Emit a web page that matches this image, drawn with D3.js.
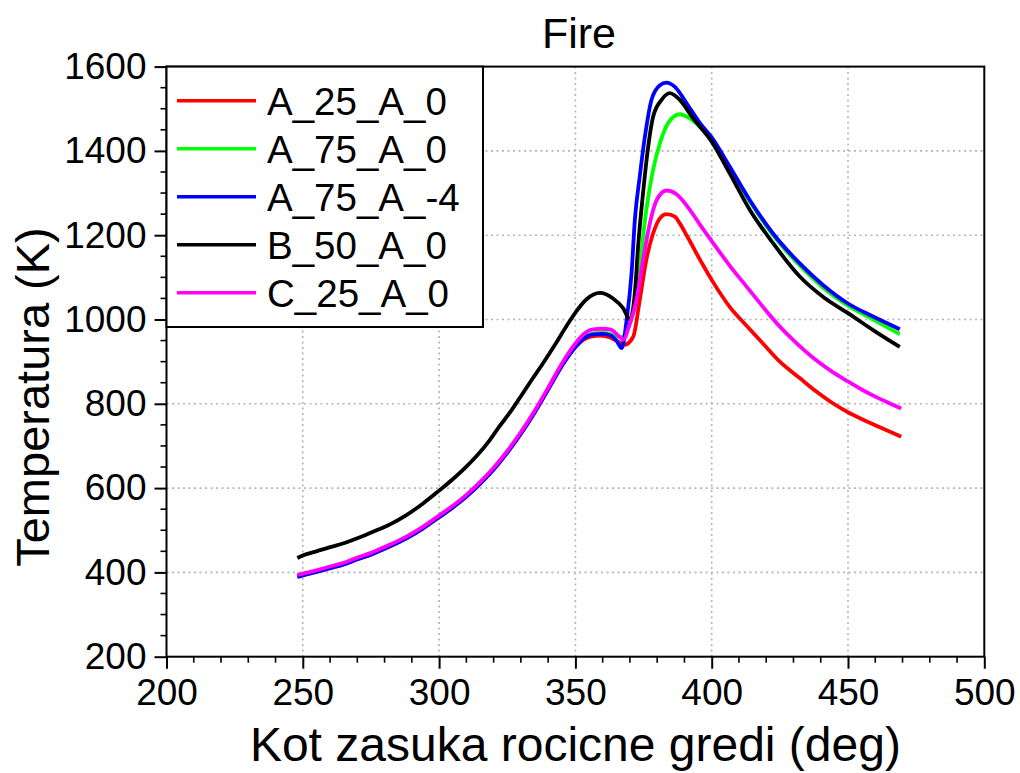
<!DOCTYPE html>
<html>
<head>
<meta charset="utf-8">
<script src="https://cdn.jsdelivr.net/npm/d3@7"></script>
<style>
  html, body { margin: 0; padding: 0; background: #fff; }
  svg { display: block; font-family: "Liberation Sans", Arial, Helvetica, sans-serif; }
</style>
</head>
<body>
<svg id="chart" width="1020" height="773"></svg>
<script>
// ---- data ----
const seriesNames = ["A_25_A_0", "A_75_A_0", "A_75_A_-4", "B_50_A_0", "C_25_A_0"];
const seriesColors = ["#ff0000", "#00ff00", "#0000ff", "#000000", "#ff00ff"];

const xRed = [248,250,255,260,265,270,276,282,288,294,300,305,310,315,320,325,330,335,340,345,350,353,356,359,363,366,368,371.2,373.6,376,378.5,381,383.4,386.5,388.3,390.8,394.4,400,406.6,412.8,418.8,425,432.3,438.4,444,450,455,460.4,465,469.5];
const tRed = [390,393,401,410,419,431,445,462,481,504,531,554,580,610,644,684,729,779,834,890,934,952,960,962,957,946,940,959,1046,1141,1204,1240,1250,1244,1228,1200,1157,1094,1030,985,943,900,861,829,803,780,764,748,735,722];

const xGreen = [248,250,255,260,265,270,276,282,288,294,300,305,310,315,320,325,330,335,340,345,350,353,356,360,363,365,367,369,371.2,373.6,376,378.5,381,384,388.3,392,395.7,400,406.6,414,422.5,432.3,440.8,450,459.2,469];
const tGreen = [391,394,402,411,420,432,446,463,482,505,532,555,581,611,645,685,730,780,835,891,937,957,966,968,965,960,958,975,1015,1125,1260,1355,1418,1466,1487,1477,1457,1426,1360,1280,1200,1128,1076,1033,1000,965];

const xBlue = [248,250,255,260,265,270,276,282,288,294,300,305,310,315,320,325,330,335,340,345,350,353,356,360,363,365,367,368.8,370.6,371.8,373.6,375.5,377.9,381,383.4,386.5,390.8,395.7,400,406.6,414,422.5,432.3,440.8,450,459.2,469];
const tBlue = [389,393,401,410,419,431,445,462,481,504,531,554,580,610,644,684,729,779,834,890,935,955,964,966,962,950,932,999,1110,1236,1339,1434,1521,1556,1562,1552,1513,1466,1432,1363,1283,1204,1133,1082,1038,1007,977];

const xBlack = [248,250,255,260,265,270,276,282,288,294,300,305,310,314,318.6,322,326.6,330,334,338,342.5,346.8,350.4,354.1,359,363.8,367.5,370,371.8,373,374.8,376.7,378.5,381.6,384.6,388.3,393.2,400,406.6,414,422.5,432.3,440.8,450,459.2,469];
const tBlack = [434,440,450,460,469,481,497,514,536,563,594,621,651,678,714,745,785,818,857,895,940,985,1020,1048,1063,1050,1027,1000,1062,1173,1299,1410,1481,1521,1537,1521,1477,1422,1347,1260,1181,1102,1054,1015,975,935];

const xMagenta = [248,250,255,260,265,270,276,282,288,294,300,305,310,315,320,325,330,335,340,345,350,353,356,360,363,366,367.5,370,372.4,374.8,377.3,379.8,383.4,387.1,392,396,400,406.6,412.8,418.8,425,431.1,438,444,450,455,460,465,469.5];
const tMagenta = [394,397,405,414,423,435,449,466,485,508,535,558,584,614,648,688,733,783,838,895,943,965,976,978,976,960,952,991,1046,1141,1228,1283,1306,1297,1260,1222,1186,1128,1078,1030,983,944,905,877,853,834,817,802,789];

const xTicks = [200, 250, 300, 350, 400, 450, 500];
const yTicks = [200, 400, 600, 800, 1000, 1200, 1400, 1600];

const seriesX = [xRed, xGreen, xBlue, xBlack, xMagenta];
const seriesT = [tRed, tGreen, tBlue, tBlack, tMagenta];

// ---- layout ----
const svg = d3.select("#chart");
const pL = 166.5, pR = 984.3, pT = 66.6, pB = 656.7;

const x = d3.scaleLinear().domain([200, 500]).range([pL, pR]);
const y = d3.scaleLinear().domain([200, 1600]).range([pB, pT]);

// grid
const grid = svg.append("g");
grid.selectAll("line.gx").data(xTicks.slice(1, -1)).join("line")
  .attr("x1", d => x(d)).attr("x2", d => x(d))
  .attr("y1", pT).attr("y2", pB)
  .attr("stroke", "#b4b4b4").attr("stroke-width", 1.6).attr("stroke-dasharray", "2,3.5");
grid.selectAll("line.gy").data(yTicks.slice(1, -1)).join("line")
  .attr("x1", pL).attr("x2", pR)
  .attr("y1", d => y(d)).attr("y2", d => y(d))
  .attr("stroke", "#b4b4b4").attr("stroke-width", 1.6).attr("stroke-dasharray", "2,3.5");

// lines
const line = d3.line().curve(d3.curveMonotoneX);
const lines = svg.append("g");
seriesNames.forEach((name, i) => {
  const pts = seriesX[i].map((v, j) => [x(v), y(seriesT[i][j])]);
  lines.append("path")
    .attr("d", line(pts))
    .attr("fill", "none")
    .attr("stroke", seriesColors[i])
    .attr("stroke-width", 3.8)
    .attr("stroke-linejoin", "round");
});

// frame
svg.append("rect").attr("x", pL).attr("y", pT)
  .attr("width", pR - pL).attr("height", pB - pT)
  .attr("fill", "none").attr("stroke", "#000").attr("stroke-width", 2);

// x axis
const xAxis = d3.axisBottom(x).tickValues(xTicks).tickSize(12).tickPadding(10).tickFormat(d3.format("d"));
const gx = svg.append("g").attr("transform", `translate(0,${pB})`).call(xAxis);
gx.select(".domain").remove();
gx.selectAll(".tick line").attr("stroke", "#000").attr("stroke-width", 2);
gx.selectAll(".tick text").attr("font-size", 37).attr("fill", "#000")
  .attr("font-family", "Liberation Sans, Arial, sans-serif");
const xMinor = d3.range(200, 501, 10).filter(v => v % 50 !== 0);
svg.append("g").selectAll("line").data(xMinor).join("line")
  .attr("x1", d => x(d)).attr("x2", d => x(d))
  .attr("y1", pB).attr("y2", pB + 6)
  .attr("stroke", "#000").attr("stroke-width", 1.6);

// y axis
const yAxis = d3.axisLeft(y).tickValues(yTicks).tickSize(12).tickPadding(8).tickFormat(d3.format("d"));
const gy = svg.append("g").attr("transform", `translate(${pL},0)`).call(yAxis);
gy.select(".domain").remove();
gy.selectAll(".tick line").attr("stroke", "#000").attr("stroke-width", 2);
gy.selectAll(".tick text").attr("font-size", 37).attr("fill", "#000")
  .attr("font-family", "Liberation Sans, Arial, sans-serif");
const yMinor = d3.range(200, 1601, 50).filter(v => v % 200 !== 0);
svg.append("g").selectAll("line").data(yMinor).join("line")
  .attr("x1", pL - 6).attr("x2", pL)
  .attr("y1", d => y(d)).attr("y2", d => y(d))
  .attr("stroke", "#000").attr("stroke-width", 1.6);

// titles
svg.append("text").attr("x", 579).attr("y", 48).attr("text-anchor", "middle")
  .attr("font-size", 43).text("Fire");
svg.append("text").attr("x", (pL + pR) / 2).attr("y", 761).attr("text-anchor", "middle")
  .attr("font-size", 48).text("Kot zasuka rocicne gredi (deg)");
svg.append("text").attr("transform", "translate(49,397) rotate(-90)")
  .attr("text-anchor", "middle").attr("font-size", 47).text("Temperatura (K)");

// legend
const legend = svg.append("g");
legend.append("rect").attr("x", pL).attr("y", pT).attr("width", 483 - pL).attr("height", 327 - pT)
  .attr("fill", "#fff").attr("stroke", "#000").attr("stroke-width", 2);
seriesNames.forEach((name, i) => {
  const ly = 100.7 + i * 48;
  legend.append("line").attr("x1", 177).attr("x2", 256).attr("y1", ly).attr("y2", ly)
    .attr("stroke", seriesColors[i]).attr("stroke-width", 3.4);
  legend.append("text").attr("x", 267).attr("y", ly + 13.8).attr("font-size", 38.5).text(name);
});
</script>
</body>
</html>
